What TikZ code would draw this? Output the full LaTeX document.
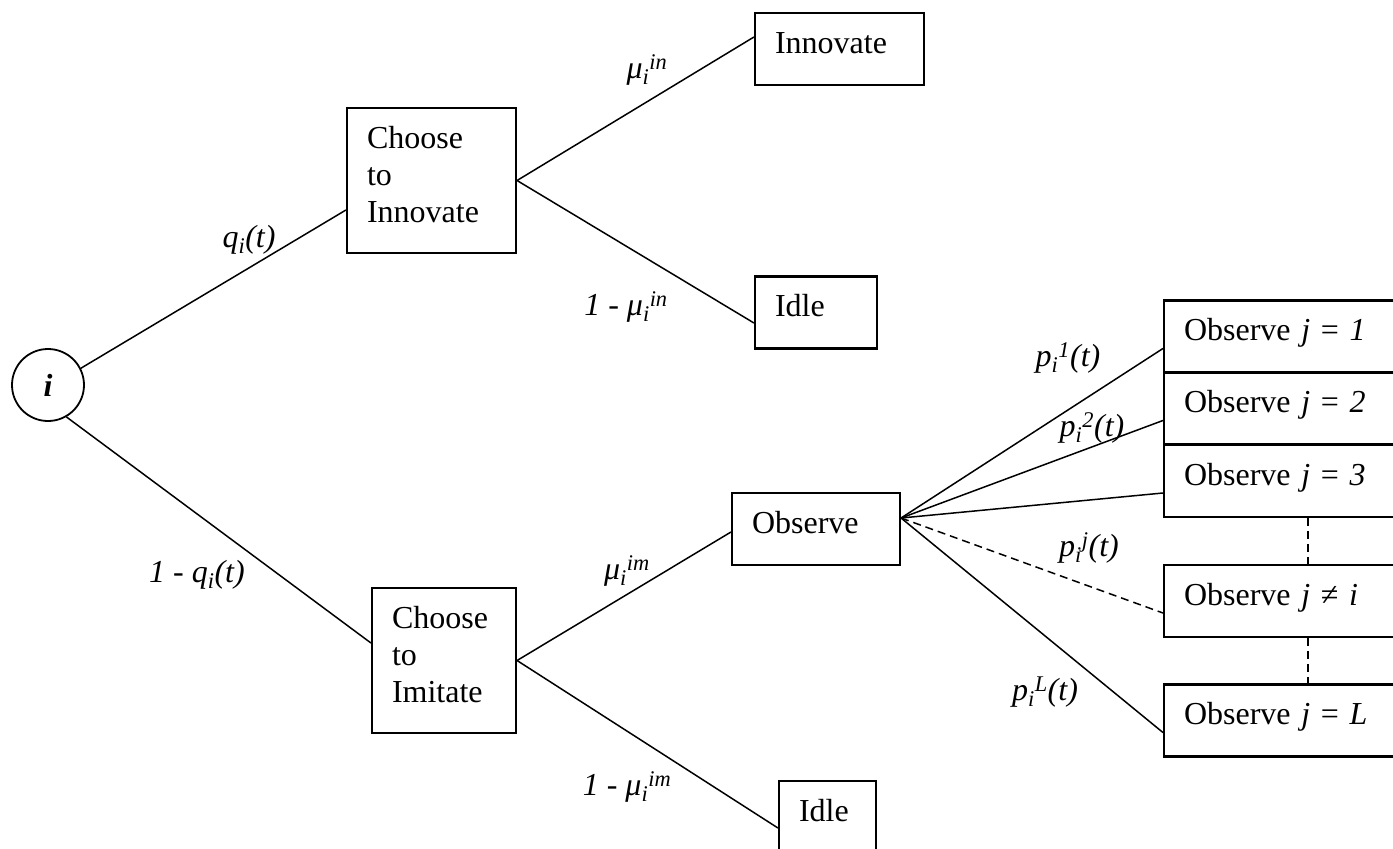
\documentclass[tikz,border=0pt]{standalone}
\usepackage{fontspec}
\setmainfont{Liberation Serif}

\begin{document}
\begin{tikzpicture}[x=1pt, y=-1pt, font=\fontsize{32}{37}\selectfont,
		box/.style={draw, rectangle, line width=2.1pt, inner xsep=20pt, inner ysep=18pt, align=left},
		onebox/.style={box, text height=22pt, text depth=14pt},
		threebox/.style={box, text height=22pt, text depth=87pt},
		branch/.style={line width=1.5pt},
		gap/.style={line width=1.5pt, dash pattern=on 8pt off 5pt},
		lbl/.style={inner sep=0pt}]
				\useasboundingbox (0,0) rectangle (1393,849);
				\clip (0,0) rectangle (1393,849);

				\node[draw, circle, line width=1.8pt, minimum size=72pt, inner sep=0pt] (i) at (48,385) {\textbf{\textit{i}}};

				\node[threebox, text width=129pt] (cin) at (431.5,180.5) {Choose\\to\\Innovate};
				\node[onebox, text width=129pt] (inn) at (839.5,49) {Innovate};
				\node[onebox, text width=82pt] (idlin) at (816,312.5) {Idle};

				\node[threebox, text width=104pt] (cim) at (444,660.5) {Choose\\to\\Imitate};
				\node[onebox, text width=128pt] (obs) at (816,529) {Observe};
				\node[onebox, text width=57pt] (idlim) at (827.5,817) {Idle};

				\node[onebox, text width=220pt] (obs1) at (1294,336.5) {Observe \textit{j} = \textit{1}};
				\node[onebox, text width=220pt] (obs2) at (1294,408.5) {Observe \textit{j} = \textit{2}};
				\node[onebox, text width=220pt] (obs3) at (1294,481) {Observe \textit{j} = \textit{3}};
				\node[onebox, text width=220pt] (obsji) at (1294,601) {Observe \textit{j} ≠ \textit{i}};
				\node[onebox, text width=220pt] (obsL) at (1294,720.5) {Observe \textit{j} = \textit{L}};

				\draw[branch] (i.27) -- ([yshift=-29.5pt]cin.west);
				\draw[branch] (i.300) -- ([yshift=17.5pt]cim.west);
				\draw[branch] (cin.east) -- ([yshift=12pt]inn.west);
				\draw[branch] (cin.east) -- ([yshift=-10.5pt]idlin.west);
				\draw[branch] (cim.east) -- ([yshift=-3pt]obs.west);
				\draw[branch] (cim.east) -- ([yshift=-11pt]idlim.west);

				\coordinate (fan) at ([yshift=11pt]obs.east);
				\foreach \o in {obs1,obs2,obs3,obsL}
					\draw[branch] (fan) -- ([yshift=-12pt]\o.west);
				\draw[gap] (fan) -- ([yshift=-12pt]obsji.west);
				\draw[gap] ([xshift=14pt]obs3.south) -- ([xshift=14pt]obsji.north);
				\draw[gap] ([xshift=14pt]obsji.south) -- ([xshift=14pt]obsL.north);

				\node[lbl] (lq) at (249,240) {\textit{q}\textsubscript{\textit{i}}\textit{(t)}};
				\node[lbl] (lnq) at (197,575) {\textit{1 - q}\textsubscript{\textit{i}}\textit{(t)}};
				\node[lbl] (lmin) at (647,70) {\textit{μ}\textsubscript{\textit{i}}\textsuperscript{\textit{in}}};
				\node[lbl] (lnmin) at (626,307) {\textit{1 - μ}\textsubscript{\textit{i}}\textsuperscript{\textit{in}}};
				\node[lbl] (lmim) at (627,571) {\textit{μ}\textsubscript{\textit{i}}\textsuperscript{\textit{im}}};
				\node[lbl] (lnmim) at (627,787) {\textit{1 - μ}\textsubscript{\textit{i}}\textsuperscript{\textit{im}}};
				\node[lbl] (lp1) at (1068,358) {\textit{p}\textsubscript{\textit{i}}\textsuperscript{\textit{1}}\textit{(t)}};
				\node[lbl] (lp2) at (1092,428) {\textit{p}\textsubscript{\textit{i}}\textsuperscript{\textit{2}}\textit{(t)}};
				\node[lbl] (lpj) at (1089,548) {\textit{p}\textsubscript{\textit{i}}\textsuperscript{\textit{j}}\textit{(t)}};
				\node[lbl] (lpL) at (1045,692) {\textit{p}\textsubscript{\textit{i}}\textsuperscript{\textit{L}}\textit{(t)}};
			\end{tikzpicture}
\end{document}
